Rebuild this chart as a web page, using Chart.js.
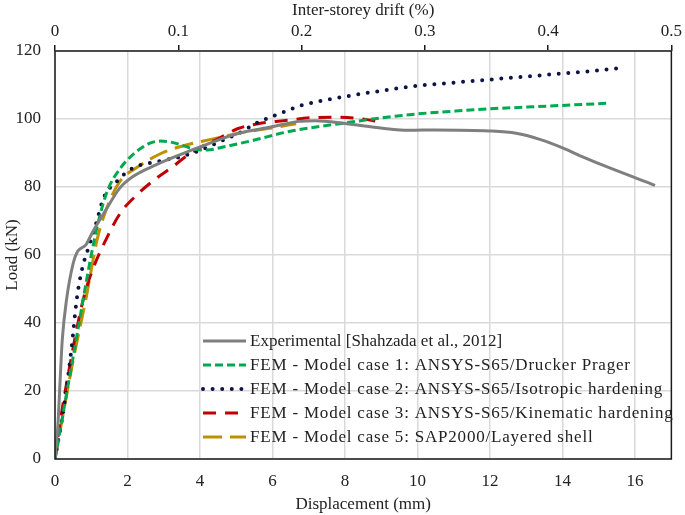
<!DOCTYPE html>
<html>
<head>
<meta charset="utf-8">
<script src="https://cdn.jsdelivr.net/npm/chart.js@4.4.0/dist/chart.umd.min.js"></script>
<style>
  html, body { margin: 0; padding: 0; background: #fff; }
  #wrap { width: 685px; height: 515px; }
</style>
</head>
<body>
<div id="wrap"><canvas id="loadChart" width="685" height="515"></canvas></div>
<script>
// Load-displacement curves, values
const expDisp = [0, 0.08, 0.15, 0.2, 0.32, 0.5, 0.62, 0.85, 1.05, 1.4, 1.78, 2.14, 2.78, 3.42, 4.15, 5.06, 5.98, 6.72, 7.18, 8.0, 9.03, 9.77, 10.5, 11.98, 12.72, 13.37, 14.0, 14.57, 15.3, 16.55];
const expLoad = [0, 10, 25, 35, 47, 57.5, 61, 63, 67, 73.2, 79.6, 83, 86.5, 89.4, 92.4, 95.8, 97.7, 99.3, 99.5, 98.7, 97.3, 96.7, 96.8, 96.5, 95.8, 94, 91.5, 88.8, 85.6, 80.5];

const case1Disp = [0, 0.5, 1.0, 1.2, 1.45, 1.8, 2.2, 2.6, 2.9, 3.2, 3.5, 3.9, 4.2, 4.7, 5.5, 6.4, 7.9, 9.0, 10.0, 11.0, 12.0, 13.0, 14.0, 15.2];
const case1Load = [0, 30, 60, 70, 79, 85.5, 90, 92.8, 93.5, 93.2, 92.3, 91, 90.9, 91.9, 93.8, 96.2, 98.7, 100.3, 101.5, 102.3, 103, 103.5, 104, 104.6];

const case2Disp = [0, 0.27, 0.46, 0.6, 0.75, 0.95, 1.1, 1.35, 1.7, 2.1, 2.9, 3.5, 4.0, 4.6, 5.1, 5.6, 6.3, 6.8, 7.9, 9.0, 10.0, 11.0, 12.0, 13.0, 14.0, 15.0, 15.5];
const case2Load = [0, 17, 33, 47, 56, 63, 68, 77, 81.6, 85.3, 87.6, 89, 90.8, 93.6, 96, 99, 102, 104, 106.4, 108.3, 109.8, 110.7, 111.6, 112.5, 113.4, 114.3, 114.9];

const case3Disp = [0, 0.1, 0.4, 0.78, 1.05, 1.4, 1.8, 2.25, 2.8, 3.25, 3.6, 4.05, 4.5, 5.05, 5.6, 6.4, 7.1, 7.7, 8.35, 9.0];
const case3Load = [0, 8, 27, 47, 56, 64.4, 72.3, 77.6, 82.6, 86, 88.9, 91.9, 94.2, 97.2, 98.6, 99.6, 100.4, 100.5, 100.2, 99.1];

const case5Disp = [0, 0.5, 0.87, 1.15, 1.4, 1.78, 2.3, 2.95, 3.5, 4.3, 5.1, 6.0, 6.65];
const case5Load = [0, 29, 48, 64, 73, 81.5, 86, 90, 92, 94, 95.9, 97.4, 98.6];

const seriesNames = [
  'Experimental [Shahzada et al., 2012]',
  'FEM - Model case 1: ANSYS-S65/Drucker Prager',
  'FEM - Model case 2: ANSYS-S65/Isotropic hardening',
  'FEM - Model case 3: ANSYS-S65/Kinematic hardening',
  'FEM - Model case 5: SAP2000/Layered shell'
];

const dispMax = 17;      // mm at the right edge
const driftMax = 0.5;    // % at the right edge

const FONT = 'Liberation Serif, Times New Roman, serif';

function pts(xs, ys) {
  return xs.map((x, i) => ({ x: x, y: ys[i] }));
}

function series(label, xs, ys, color, dash, width, cap) {
  return {
    label: label,
    data: pts(xs, ys),
    borderColor: color,
    backgroundColor: color,
    borderWidth: width,
    borderDash: dash,
    borderCapStyle: cap || 'butt',
    pointRadius: 0,
    fill: false,
    cubicInterpolationMode: 'monotone'
  };
}

// legend drawn inside the plot, plus the frame round the plot
const frameAndLegend = {
  id: 'frameAndLegend',
  afterDraw(chart) {
    const ctx = chart.ctx;
    const a = chart.chartArea;
    ctx.save();
    ctx.strokeStyle = '#1a1a1a';
    ctx.lineWidth = 1.5;
    ctx.strokeRect(a.left, a.top, a.right - a.left, a.bottom - a.top);

    ctx.font = '17px ' + FONT;
    ctx.fillStyle = '#222';
    ctx.textBaseline = 'middle';
    chart.data.datasets.forEach((ds, i) => {
      const y = 341 + i * 24;
      ctx.beginPath();
      ctx.strokeStyle = ds.borderColor;
      ctx.lineWidth = ds.borderWidth;
      ctx.lineCap = ds.borderCapStyle;
      ctx.setLineDash(ds.borderDash);
      ctx.moveTo(203, y);
      ctx.lineTo(246, y);
      ctx.stroke();
      ctx.setLineDash([]);
      // the FEM rows are set a little wider in the figure
      ctx.letterSpacing = i === 0 ? '0px' : '0.8px';
      ctx.fillText(ds.label, 250, y + 1);
    });
    ctx.restore();
  }
};

const ctx = document.getElementById('loadChart').getContext('2d');
new Chart(ctx, {
  type: 'line',
  data: {
    datasets: [
      series(seriesNames[0], expDisp, expLoad, '#7f7f7f', [], 3),
      series(seriesNames[1], case1Disp, case1Load, '#00a84f', [8, 4], 3),
      series(seriesNames[2], case2Disp, case2Load, '#0c1445', [0, 9.6], 4, 'round'),
      series(seriesNames[3], case3Disp, case3Load, '#c00000', [13, 9], 3),
      series(seriesNames[4], case5Disp, case5Load, '#bf9000', [19, 8], 3)
    ]
  },
  options: {
    responsive: false,
    animation: false,
    layout: { padding: { left: 0, right: 9, top: 0, bottom: 0 } },
    plugins: {
      legend: { display: false },
      tooltip: { enabled: false }
    },
    scales: {
      x: {
        type: 'linear',
        position: 'bottom',
        min: 0,
        max: dispMax,
        afterFit(scale) { scale.height = 56; },
        grid: { color: '#d9d9d9', lineWidth: 1.5, drawTicks: false },
        border: { display: false },
        ticks: {
          stepSize: 2,
          includeBounds: false,
          padding: 12,
          color: '#222',
          font: { family: FONT, size: 17 }
        },
        title: {
          display: true,
          text: 'Displacement (mm)',
          color: '#222',
          padding: { top: 2, bottom: 0 },
          font: { family: FONT, size: 17 }
        }
      },
      x2: {
        type: 'linear',
        position: 'top',
        min: 0,
        max: driftMax,
        afterFit(scale) { scale.height = 51; },
        grid: { drawOnChartArea: false, drawTicks: true, tickLength: 6, color: '#1a1a1a', lineWidth: 1.5 },
        border: { display: false },
        ticks: {
          stepSize: 0.1,
          padding: 3,
          color: '#222',
          font: { family: FONT, size: 17 }
        },
        title: {
          display: true,
          text: 'Inter-storey drift (%)',
          color: '#222',
          padding: { top: 0, bottom: 0 },
          font: { family: FONT, size: 17 }
        }
      },
      y: {
        type: 'linear',
        min: 0,
        max: 120,
        afterFit(scale) { scale.width = 55; },
        grid: { color: '#d9d9d9', lineWidth: 1.5, drawTicks: false },
        border: { display: false },
        ticks: {
          stepSize: 20,
          padding: 14,
          color: '#222',
          font: { family: FONT, size: 17 }
        },
        title: {
          display: true,
          text: 'Load (kN)',
          color: '#222',
          padding: { top: 2, bottom: 0 },
          font: { family: FONT, size: 17 }
        }
      }
    }
  },
  plugins: [frameAndLegend]
});
</script>
</body>
</html>
